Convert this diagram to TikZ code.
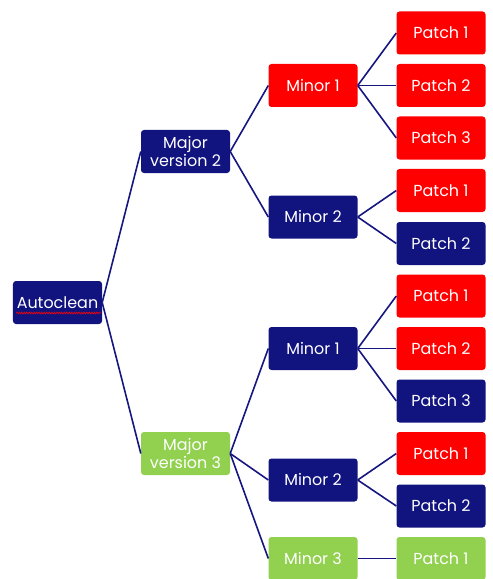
\documentclass[tikz,border=0pt]{standalone}
\usepackage{fontspec}
\setmainfont{Poppins}
\usetikzlibrary{decorations.pathmorphing}
\definecolor{navy}{HTML}{11137E}
\definecolor{linenavy}{HTML}{161680}
\definecolor{bred}{HTML}{FF0000}
\definecolor{bgreen}{HTML}{92D050}
\tikzset{
  box/.style={rectangle, rounded corners=3bp, minimum width=89bp, minimum height=43bp,
    inner sep=0pt, text=white, align=center, font=\fontsize{16}{18.5}\selectfont},
  bn/.style={box, fill=navy},
  br/.style={box, fill=bred},
  bg/.style={box, fill=bgreen},
  link/.style={draw=linenavy, line width=1.6bp}
}
\begin{document}
\begin{tikzpicture}[x=1bp,y=-1bp]
\useasboundingbox (0,0) rectangle (493,579);
\node[bn] (auto) at (57.5,302.5) {Autoclean};
\node[bn] (maj2) at (185.5,151.5) {Major\\version 2};
\node[bg] (maj3) at (185.5,453.5) {Major\\version 3};
\node[br] (m21) at (313,85.5) {Minor 1};
\node[bn] (m22) at (313,217) {Minor 2};
\node[bn] (m31) at (313,348.5) {Minor 1};
\node[bn] (m32) at (313,480) {Minor 2};
\node[bg] (m33) at (313,558.5) {Minor 3};
\node[br] (p1) at (441,33) {Patch 1};
\node[br] (p2) at (441,85.5) {Patch 2};
\node[br] (p3) at (441,138) {Patch 3};
\node[br] (p4) at (441,190.5) {Patch 1};
\node[bn] (p5) at (441,243.5) {Patch 2};
\node[br] (p6) at (441,296) {Patch 1};
\node[br] (p7) at (441,348.5) {Patch 2};
\node[bn] (p8) at (441,401) {Patch 3};
\node[br] (p9) at (441,453.5) {Patch 1};
\node[bn] (p10) at (441,506) {Patch 2};
\node[bg] (p11) at (441,558.5) {Patch 1};
\draw[bred, line width=0.6bp, decorate, decoration={snake, amplitude=0.9bp, segment length=2.5bp}] (16,313) -- (101,313);
\foreach \a/\b in {auto/maj2, auto/maj3, maj2/m21, maj2/m22, maj3/m31, maj3/m32, maj3/m33,
  m21/p1, m21/p2, m21/p3, m22/p4, m22/p5, m31/p6, m31/p7, m31/p8, m32/p9, m32/p10, m33/p11}
  \draw[link] (\a.east) -- (\b.west);
\end{tikzpicture}
\end{document}
